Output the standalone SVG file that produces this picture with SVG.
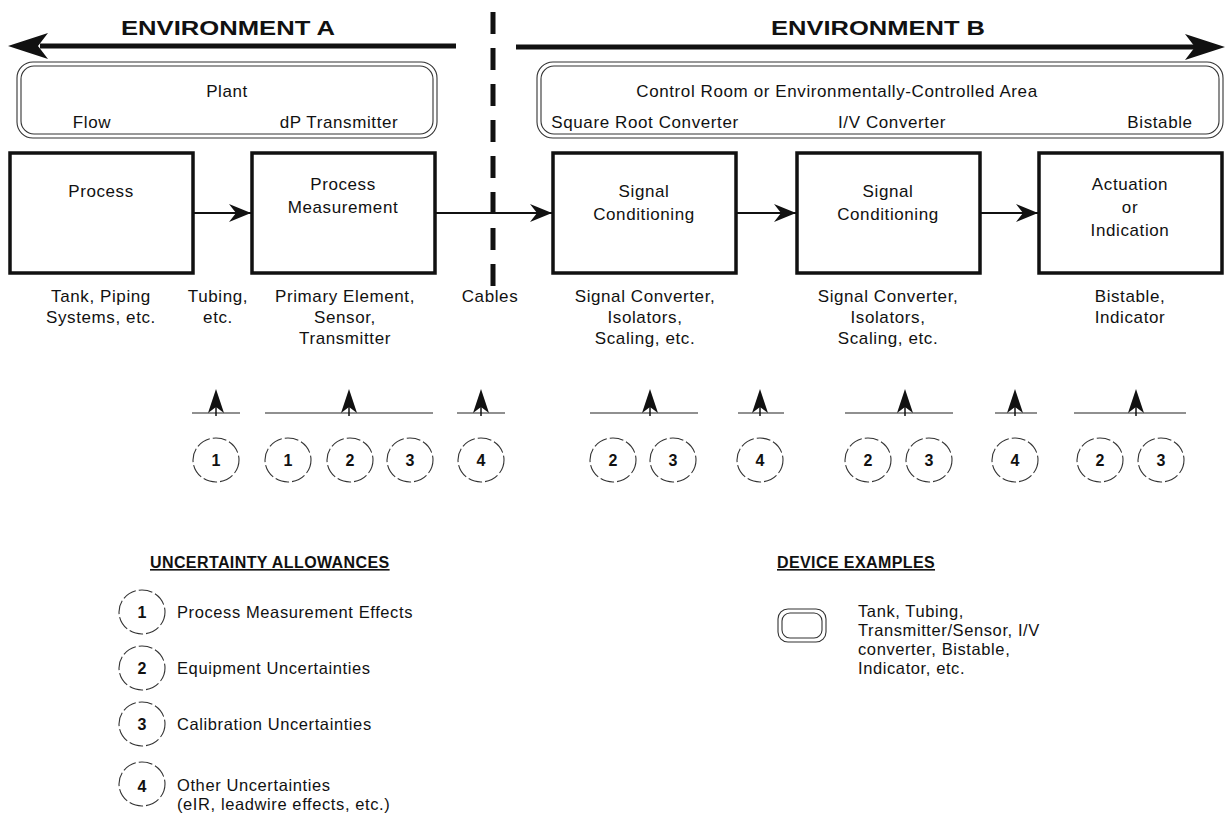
<svg xmlns="http://www.w3.org/2000/svg" width="1226" height="818" viewBox="0 0 1226 818">
<style>
text{font-family:"Liberation Sans",Arial,sans-serif;fill:#111}
.t{font-size:17px;letter-spacing:0.6px;text-anchor:middle}
.ts{font-size:16.5px;letter-spacing:0.6px}
.ttl{font-size:20px;font-weight:bold;text-anchor:middle}
.leg{font-size:16px;font-weight:bold;letter-spacing:0.4px;text-decoration:underline}
.dig{font-size:16px;font-weight:bold;text-anchor:middle}
.box{fill:#fff;stroke:#111;stroke-width:3.5}
.rr{fill:none;stroke:#333;stroke-width:1.1}
.cir{fill:none;stroke:#333;stroke-width:1.1;stroke-dasharray:14 3}
.con{stroke:#111;stroke-width:2;fill:none}
.thin{stroke:#222;stroke-width:1.2;fill:none}
</style>
<defs>
<marker id="ah" markerWidth="24" markerHeight="20" refX="22" refY="10" orient="auto" markerUnits="userSpaceOnUse">
<path d="M0,1 L22,10 L0,19 L7,10 Z" fill="#111"/>
</marker>
<g id="up"><path d="M0,-24 L-8,0 L0,-6 L8,0 Z" fill="#111"/><line x1="0" y1="-6" x2="0" y2="3" stroke="#111" stroke-width="1.5"/></g>
</defs>

<g id="envA">
<text class="ttl" x="228" y="35" textLength="214" lengthAdjust="spacingAndGlyphs">ENVIRONMENT A</text>
<line x1="40" y1="46" x2="456" y2="46" stroke="#111" stroke-width="5"/>
<path d="M8,46 L48,33 L38,46 L48,59 Z" fill="#111"/>
</g>
<g id="envB">
<text class="ttl" x="878" y="35" textLength="214" lengthAdjust="spacingAndGlyphs">ENVIRONMENT B</text>
<line x1="516" y1="47" x2="1195" y2="47" stroke="#111" stroke-width="5"/>
<path d="M1225,47 L1185,34 L1195,47 L1185,60 Z" fill="#111"/>
</g>
<line id="divider" x1="493" y1="12" x2="493" y2="286" stroke="#111" stroke-width="5" stroke-dasharray="22 14"/>

<g id="plant">
<rect class="rr" x="17" y="62" width="420" height="76" rx="16"/>
<rect class="rr" x="21" y="66" width="412" height="68" rx="13"/>
<text class="t" x="227" y="97">Plant</text>
<text class="t" x="92" y="128">Flow</text>
<text class="t" x="339" y="128">dP Transmitter</text>
</g>
<g id="controlroom">
<rect class="rr" x="537" y="62" width="686" height="76" rx="16"/>
<rect class="rr" x="541" y="66" width="678" height="68" rx="13"/>
<text class="t" x="837" y="97">Control Room or Environmentally-Controlled Area</text>
<text class="t" x="645" y="128">Square Root Converter</text>
<text class="t" x="892" y="128">I/V Converter</text>
<text class="t" x="1160" y="128">Bistable</text>
</g>

<g id="process">
<rect class="box" x="10" y="153" width="183" height="120"/>
<text class="t" x="101" y="197">Process</text>
</g>
<g id="measurement">
<rect class="box" x="252" y="153" width="183" height="120"/>
<text class="t" x="343" y="190">Process</text>
<text class="t" x="343" y="213">Measurement</text>
</g>
<g id="sc1">
<rect class="box" x="553" y="153" width="183" height="120"/>
<text class="t" x="644" y="197">Signal</text>
<text class="t" x="644" y="220">Conditioning</text>
</g>
<g id="sc2">
<rect class="box" x="797" y="153" width="183" height="120"/>
<text class="t" x="888" y="197">Signal</text>
<text class="t" x="888" y="220">Conditioning</text>
</g>
<g id="actuation">
<rect class="box" x="1039" y="153" width="183" height="120"/>
<text class="t" x="1130" y="190">Actuation</text>
<text class="t" x="1130" y="213">or</text>
<text class="t" x="1130" y="236">Indication</text>
</g>

<g id="connectors">
<line class="con" x1="193" y1="213" x2="251" y2="213" marker-end="url(#ah)"/>
<line class="con" x1="435" y1="213" x2="552" y2="213" marker-end="url(#ah)"/>
<line class="con" x1="736" y1="213" x2="796" y2="213" marker-end="url(#ah)"/>
<line class="con" x1="980" y1="213" x2="1038" y2="213" marker-end="url(#ah)"/>
</g>

<g id="labels">
<text class="t" x="101" y="302">Tank, Piping</text>
<text class="t" x="101" y="323">Systems, etc.</text>
<text class="t" x="218" y="302">Tubing,</text>
<text class="t" x="218" y="323">etc.</text>
<text class="t" x="345" y="302">Primary Element,</text>
<text class="t" x="345" y="323">Sensor,</text>
<text class="t" x="345" y="344">Transmitter</text>
<text class="t" x="490" y="302">Cables</text>
<text class="t" x="645" y="302">Signal Converter,</text>
<text class="t" x="645" y="323">Isolators,</text>
<text class="t" x="645" y="344">Scaling, etc.</text>
<text class="t" x="888" y="302">Signal Converter,</text>
<text class="t" x="888" y="323">Isolators,</text>
<text class="t" x="888" y="344">Scaling, etc.</text>
<text class="t" x="1130" y="302">Bistable,</text>
<text class="t" x="1130" y="323">Indicator</text>
</g>

<g id="pointers">
<line class="thin" x1="192" y1="413" x2="240" y2="413"/><use href="#up" x="216" y="413"/>
<line class="thin" x1="265" y1="413" x2="433" y2="413"/><use href="#up" x="349" y="413"/>
<line class="thin" x1="457" y1="413" x2="505" y2="413"/><use href="#up" x="481" y="413"/>
<line class="thin" x1="590" y1="413" x2="698" y2="413"/><use href="#up" x="650" y="413"/>
<line class="thin" x1="738" y1="413" x2="784" y2="413"/><use href="#up" x="760" y="413"/>
<line class="thin" x1="845" y1="413" x2="953" y2="413"/><use href="#up" x="905" y="413"/>
<line class="thin" x1="995" y1="413" x2="1037" y2="413"/><use href="#up" x="1015" y="413"/>
<line class="thin" x1="1074" y1="413" x2="1186" y2="413"/><use href="#up" x="1136" y="413"/>
</g>

<g id="allowances">
<ellipse class="cir" cx="216" cy="460" rx="23" ry="22"/><text class="dig" x="216" y="466">1</text>
<ellipse class="cir" cx="288" cy="460" rx="23" ry="22"/><text class="dig" x="288" y="466">1</text>
<ellipse class="cir" cx="350" cy="460" rx="23" ry="22"/><text class="dig" x="350" y="466">2</text>
<ellipse class="cir" cx="410" cy="460" rx="23" ry="22"/><text class="dig" x="410" y="466">3</text>
<ellipse class="cir" cx="481" cy="460" rx="23" ry="22"/><text class="dig" x="481" y="466">4</text>
<ellipse class="cir" cx="613" cy="460" rx="23" ry="22"/><text class="dig" x="613" y="466">2</text>
<ellipse class="cir" cx="673" cy="460" rx="23" ry="22"/><text class="dig" x="673" y="466">3</text>
<ellipse class="cir" cx="760" cy="460" rx="23" ry="22"/><text class="dig" x="760" y="466">4</text>
<ellipse class="cir" cx="868" cy="460" rx="23" ry="22"/><text class="dig" x="868" y="466">2</text>
<ellipse class="cir" cx="929" cy="460" rx="23" ry="22"/><text class="dig" x="929" y="466">3</text>
<ellipse class="cir" cx="1015" cy="460" rx="23" ry="22"/><text class="dig" x="1015" y="466">4</text>
<ellipse class="cir" cx="1100" cy="460" rx="23" ry="22"/><text class="dig" x="1100" y="466">2</text>
<ellipse class="cir" cx="1161" cy="460" rx="23" ry="22"/><text class="dig" x="1161" y="466">3</text>
</g>

<g id="legend-uncertainty">
<text class="leg" x="150" y="568">UNCERTAINTY ALLOWANCES</text>
<ellipse class="cir" cx="142" cy="612" rx="23" ry="22"/><text class="dig" x="142" y="618">1</text>
<text class="ts" x="177" y="618">Process Measurement Effects</text>
<ellipse class="cir" cx="142" cy="668" rx="23" ry="22"/><text class="dig" x="142" y="674">2</text>
<text class="ts" x="177" y="674">Equipment Uncertainties</text>
<ellipse class="cir" cx="142" cy="724" rx="23" ry="22"/><text class="dig" x="142" y="730">3</text>
<text class="ts" x="177" y="730">Calibration Uncertainties</text>
<ellipse class="cir" cx="142" cy="784" rx="23" ry="22"/><text class="dig" x="142" y="792">4</text>
<text class="ts" x="177" y="791">Other Uncertainties</text>
<text class="ts" x="177" y="810">(eIR, leadwire effects, etc.)</text>
</g>
<g id="legend-device">
<text class="leg" x="777" y="568">DEVICE EXAMPLES</text>
<rect class="rr" x="778" y="609" width="48" height="33" rx="10"/>
<rect class="rr" x="782" y="613" width="40" height="25" rx="8"/>
<text class="ts" x="858" y="617">Tank, Tubing,</text>
<text class="ts" x="858" y="636">Transmitter/Sensor, I/V</text>
<text class="ts" x="858" y="655">converter, Bistable,</text>
<text class="ts" x="858" y="674">Indicator, etc.</text>
</g>
</svg>
